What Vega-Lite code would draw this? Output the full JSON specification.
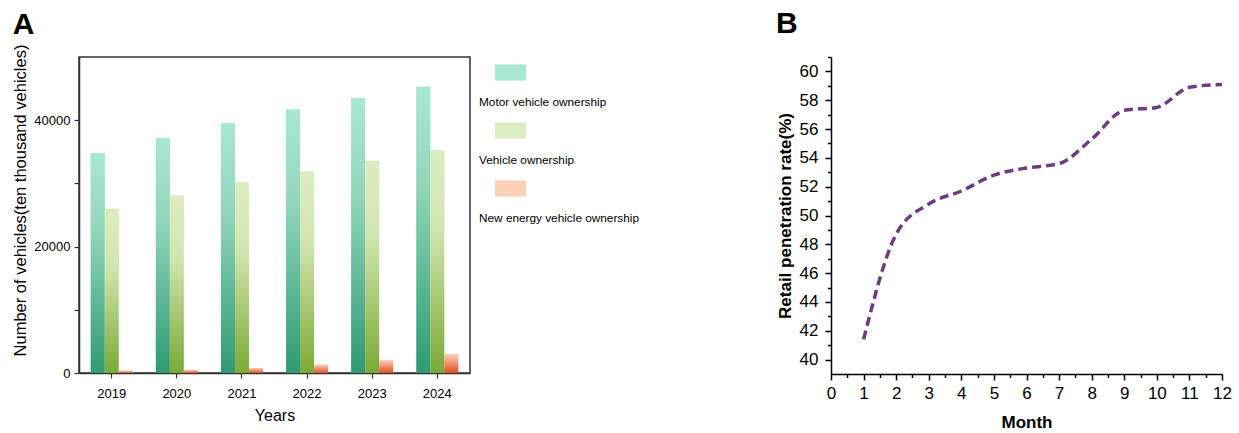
{
  "$schema": "https://vega.github.io/schema/vega-lite/v6.json",
  "padding": {"left": 12, "top": 9, "right": 5, "bottom": 4},
  "config": {
    "font": "Liberation Sans",
    "view": {"stroke": null},
    "axis": {"grid": false, "labelColor": "#000", "titleColor": "#000"}
  },
  "resolve": {"scale": {"color": "independent"}, "legend": {"color": "independent"}},
  "spacing": 136,
  "hconcat": [
    {
      "width": 391,
      "height": 316,
      "title": {"text": "A", "anchor": "start", "frame": "bounds", "fontSize": 30, "fontWeight": "bold", "color": "#000", "offset": 4},
      "view": {"stroke": "#333", "strokeWidth": 1.5},
      "data": {
        "values": [
          {"year": "2019", "series": "Motor vehicle ownership", "value": 34800},
          {"year": "2019", "series": "Vehicle ownership", "value": 26000},
          {"year": "2019", "series": "New energy vehicle ownership", "value": 381},
          {"year": "2020", "series": "Motor vehicle ownership", "value": 37200},
          {"year": "2020", "series": "Vehicle ownership", "value": 28100},
          {"year": "2020", "series": "New energy vehicle ownership", "value": 492},
          {"year": "2021", "series": "Motor vehicle ownership", "value": 39500},
          {"year": "2021", "series": "Vehicle ownership", "value": 30200},
          {"year": "2021", "series": "New energy vehicle ownership", "value": 784},
          {"year": "2022", "series": "Motor vehicle ownership", "value": 41700},
          {"year": "2022", "series": "Vehicle ownership", "value": 31900},
          {"year": "2022", "series": "New energy vehicle ownership", "value": 1310},
          {"year": "2023", "series": "Motor vehicle ownership", "value": 43500},
          {"year": "2023", "series": "Vehicle ownership", "value": 33600},
          {"year": "2023", "series": "New energy vehicle ownership", "value": 2041},
          {"year": "2024", "series": "Motor vehicle ownership", "value": 45300},
          {"year": "2024", "series": "Vehicle ownership", "value": 35300},
          {"year": "2024", "series": "New energy vehicle ownership", "value": 3000}
        ]
      },
      "encoding": {
        "x": {
          "field": "year", "type": "nominal",
          "scale": {"paddingInner": 0.355, "paddingOuter": 0.18},
          "axis": {"title": "Years", "labelAngle": 0, "labelFontSize": 13, "titleFontSize": 16, "titleFontWeight": "normal", "tickSize": 5, "labelPadding": 9, "titlePadding": 7, "domainColor": "#333", "tickColor": "#333", "domainWidth": 1.5, "tickWidth": 1.2}
        },
        "xOffset": {
          "field": "series", "type": "nominal",
          "scale": {"domain": ["Motor vehicle ownership", "Vehicle ownership", "New energy vehicle ownership"], "paddingInner": 0, "paddingOuter": 0}
        },
        "y": {
          "field": "value", "type": "quantitative",
          "scale": {"domain": [0, 50000], "nice": false},
          "axis": {"title": "Number of vehicles(ten thousand vehicles)", "values": [0, 10000, 20000, 30000, 40000], "labelExpr": "datum.value % 20000 === 0 ? format(datum.value, 'd') : ''", "labelFontSize": 13, "titleFontSize": 16.5, "titleFontWeight": "normal", "titleY": 143, "tickSize": 5, "labelPadding": 4, "titlePadding": 5, "domainColor": "#333", "tickColor": "#333", "domainWidth": 1.5, "tickWidth": 1.2}
        }
      },
      "layer": [
        {
          "mark": {"type": "bar"},
          "encoding": {
            "color": {
              "field": "series", "type": "nominal",
              "scale": {"domain": ["Motor vehicle ownership", "Vehicle ownership", "New energy vehicle ownership"], "range": ["#a9e8d1", "#dbedc1", "#fdd0b8"]},
              "legend": {
                "title": null, "orient": "right", "offset": 25, "padding": 0,
                "symbolType": "M-1,-0.52H1V0.52H-1Z", "symbolSize": 961, "symbolStrokeWidth": 0, "symbolOpacity": 1,
                "labelOffset": -47, "labelFontSize": 11.8, "labelColor": "#000", "labelLimit": 300,
                "rowPadding": 6,
                "encoding": {"labels": {"dy": {"value": 29}}}
              }
            }
          }
        },
        {
          "transform": [{"filter": "datum.series === 'Motor vehicle ownership'"}],
          "mark": {"type": "bar", "color": {"gradient": "linear", "x1": 0, "y1": 0, "x2": 0, "y2": 1, "stops": [{"offset": 0, "color": "#a9e8d1"}, {"offset": 0.35, "color": "#92d6bc"}, {"offset": 1, "color": "#2e9a73"}]}}
        },
        {
          "transform": [{"filter": "datum.series === 'Vehicle ownership'"}],
          "mark": {"type": "bar", "color": {"gradient": "linear", "x1": 0, "y1": 0, "x2": 0, "y2": 1, "stops": [{"offset": 0, "color": "#dcedc1"}, {"offset": 0.35, "color": "#d2e6b0"}, {"offset": 1, "color": "#7aaa35"}]}}
        },
        {
          "transform": [{"filter": "datum.series === 'New energy vehicle ownership'"}],
          "mark": {"type": "bar", "color": {"gradient": "linear", "x1": 0, "y1": 0, "x2": 0, "y2": 1, "stops": [{"offset": 0, "color": "#fdd0b8"}, {"offset": 1, "color": "#e05020"}]}}
        }
      ]
    },
    {
      "width": 391,
      "height": 317,
      "title": {"text": "B", "anchor": "start", "frame": "bounds", "fontSize": 30, "fontWeight": "bold", "color": "#000", "offset": 17},
      "data": {
        "values": [
          {"month": 1, "rate": 41.4},
          {"month": 2, "rate": 48.7},
          {"month": 3, "rate": 50.8},
          {"month": 4, "rate": 51.7},
          {"month": 5, "rate": 52.8},
          {"month": 6, "rate": 53.3},
          {"month": 7, "rate": 53.6},
          {"month": 8, "rate": 55.3},
          {"month": 9, "rate": 57.3},
          {"month": 10, "rate": 57.5},
          {"month": 11, "rate": 58.9},
          {"month": 12, "rate": 59.1}
        ]
      },
      "layer": [
        {
          "mark": {"type": "line", "interpolate": "monotone", "strokeDash": [9, 5], "strokeWidth": 3.5, "color": "#6e3d80"},
          "encoding": {
            "x": {
              "field": "month", "type": "quantitative",
              "scale": {"domain": [0, 12], "nice": false},
              "axis": {"title": "Month", "values": [0,1,2,3,4,5,6,7,8,9,10,11,12], "labelFontSize": 17, "titleFontSize": 17, "titleFontWeight": "bold", "tickSize": 6, "labelPadding": 5, "titlePadding": 13, "domainColor": "#000", "tickColor": "#000", "domainWidth": 1.5, "tickWidth": 1.5, "labelFlush": false}
            },
            "y": {
              "field": "rate", "type": "quantitative",
              "scale": {"domain": [39, 61], "nice": false, "zero": false},
              "axis": {"title": "Retail penetration rate(%)", "values": [40,42,44,46,48,50,52,54,56,58,60], "labelFontSize": 17, "titleFontSize": 17, "titleFontWeight": "bold", "tickSize": 6, "labelPadding": 7, "titlePadding": 5, "domainColor": "#000", "tickColor": "#000", "domainWidth": 1.5, "tickWidth": 1.5}
            }
          }
        },
        {
          "mark": {"type": "line", "opacity": 0},
          "encoding": {
            "x": {
              "field": "month", "type": "quantitative",
              "axis": {"orient": "bottom", "title": null, "labels": false, "domain": false, "values": [0.5,1.5,2.5,3.5,4.5,5.5,6.5,7.5,8.5,9.5,10.5,11.5], "tickSize": 3.5, "tickColor": "#000", "tickWidth": 1.5}
            },
            "y": {
              "field": "rate", "type": "quantitative",
              "axis": {"orient": "left", "title": null, "labels": false, "domain": false, "values": [41,43,45,47,49,51,53,55,57,59,61], "tickSize": 3.5, "tickColor": "#000", "tickWidth": 1.5}
            }
          }
        }
      ],
      "resolve": {"axis": {"x": "independent", "y": "independent"}}
    }
  ]
}
